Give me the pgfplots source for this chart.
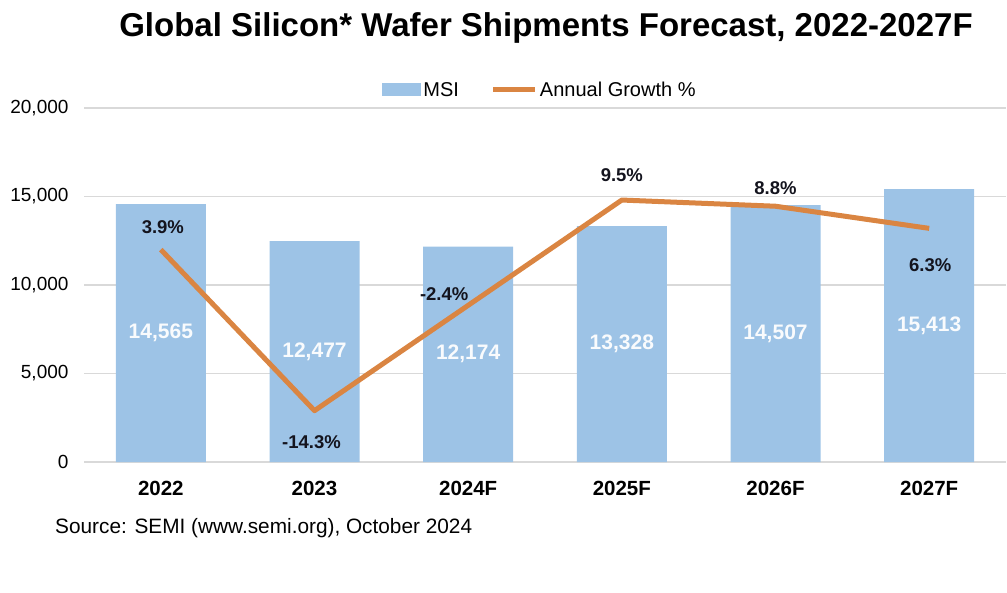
\documentclass[border=0pt]{standalone}
\usepackage{pgfplots}
\pgfplotsset{compat=1.18}
\usepackage{fontspec}
\setmainfont{Liberation Sans}
\definecolor{barblue}{RGB}{157,195,230}
\definecolor{lineor}{RGB}{218,133,66}
\definecolor{gridgray}{RGB}{217,217,217}
\definecolor{lbl}{RGB}{20,20,30}
\begin{document}
\begin{tikzpicture}[x=1pt,y=1pt]
\path (0,0) rectangle (1007,592);
\node[font=\fontsize{33}{38}\selectfont\bfseries] at (546,564) {Global Silicon* Wafer Shipments Forecast, 2022-2027F};
\node[anchor=west, inner sep=0pt, font=\fontsize{20.8}{25}\selectfont] at (55,64) {Source: SEMI (www.semi.org), October 2024};
\begin{axis}[
  at={(84pt,130pt)}, anchor=south west,
  scale only axis, width=922pt, height=354pt,
  xmin=-0.5, xmax=5.5, ymin=0, ymax=20000,
  ytick={0,5000,10000,15000,20000},
  xtick={0,1,2,3,4,5},
  xticklabels={2022,2023,2024F,2025F,2026F,2027F},
  axis line style={draw=none},
  tick style={draw=none},
  ymajorgrids, grid style={gridgray, line width=1.5pt},
  /pgf/number format/assume math mode=true,
  /pgf/number format/1000 sep={,},
  scaled y ticks=false,
  yticklabel style={font=\fontsize{19}{23}\selectfont, anchor=east, xshift=-12pt},
  xticklabel style={font=\fontsize{20.5}{24}\selectfont\bfseries, yshift=-16pt},
  legend style={at={(0.4946,1.051)}, anchor=center, draw=none, fill=none,
    font=\fontsize{20}{24}\selectfont, legend columns=2,
    /tikz/every even column/.append style={column sep=30pt},
    legend cell align=left},
]
\addplot[fill=barblue, draw=none, ybar, bar width=90pt, bar shift=0pt,
  legend image code/.code={\fill[barblue] (0pt,-6.5pt) rectangle (39pt,6.5pt);}]
  coordinates {(0,14565) (1,12477) (2,12174) (3,13328) (4,14507) (5,15413)};
\addlegendentry{MSI}
\addlegendimage{legend image code/.code={\draw[lineor, line width=5pt] (0pt,0pt) -- (42pt,0pt);}}
\addlegendentry{Annual Growth \%}
\tikzset{bl/.style={text=white!94!barblue, font=\fontsize{21}{25}\selectfont\bfseries}}
\node[bl] at (axis cs:0,7282) {14,565};
\node[bl] at (axis cs:1,6238) {12,477};
\node[bl] at (axis cs:2,6087) {12,174};
\node[bl] at (axis cs:3,6664) {13,328};
\node[bl] at (axis cs:4,7253) {14,507};
\node[bl] at (axis cs:5,7706) {15,413};
\end{axis}
\begin{axis}[
  at={(84pt,130pt)}, anchor=south west,
  scale only axis, width=922pt, height=354pt,
  xmin=-0.5, xmax=5.5, ymin=-20.1, ymax=19.9,
  hide axis,
]
\addplot[lineor, line width=5pt, mark=none, line join=round]
  coordinates {(0,3.9) (1,-14.3) (2,-2.4) (3,9.5) (4,8.8) (5,6.3)};
\tikzset{gl/.style={text=lbl, font=\fontsize{18.5}{22}\selectfont\bfseries}}
\node[gl, xshift=2pt, yshift=22pt] at (axis cs:0,3.9) {3.9\%};
\node[gl, xshift=-3pt, yshift=-31pt] at (axis cs:1,-14.3) {-14.3\%};
\node[gl, xshift=-24pt, yshift=11pt] at (axis cs:2,-2.4) {-2.4\%};
\node[gl, yshift=25pt] at (axis cs:3,9.5) {9.5\%};
\node[gl, yshift=18pt] at (axis cs:4,8.8) {8.8\%};
\node[gl, xshift=1pt, yshift=-37pt] at (axis cs:5,6.3) {6.3\%};
\end{axis}
\end{tikzpicture}
\end{document}
